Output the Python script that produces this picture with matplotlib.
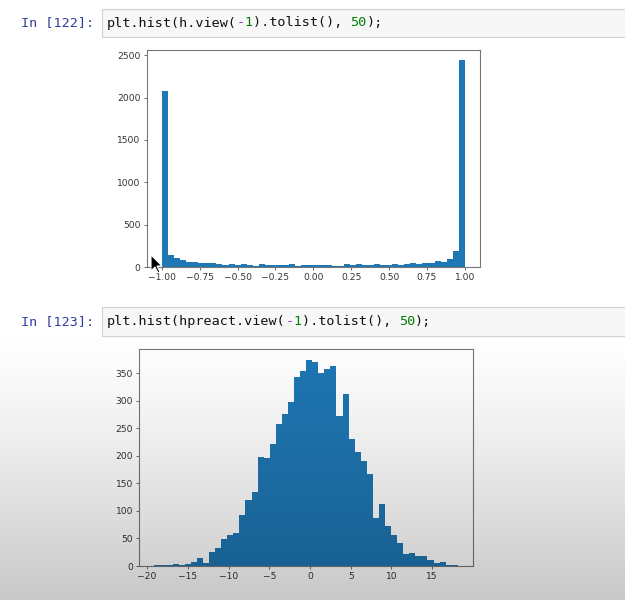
import numpy as np
import matplotlib
matplotlib.use("Agg")
import matplotlib.pyplot as plt
from matplotlib.patches import Rectangle, Polygon

# ---- data (50 bins each) ----
h_range = (-1.0, 1.0)
h_counts = [2075, 145, 110, 85, 62, 60, 50, 42, 48, 30,
            28, 35, 28, 35, 28, 15, 35, 28, 28, 28,
            28, 35, 15, 28, 28, 28, 28, 22, 12, 12,
            35, 28, 35, 28, 28, 35, 28, 28, 35, 28,
            38, 45, 35, 45, 45, 65, 55, 100, 185, 2440]
h_xticks = [-1.0, -0.75, -0.5, -0.25, 0.0, 0.25, 0.5, 0.75, 1.0]
h_yticks = [0, 500, 1000, 1500, 2000, 2500]

pre_range = (-19.1, 18.15)
pre_counts = [2, 2, 2, 4, 2, 4, 8, 15, 6, 26,
              33, 49, 56, 60, 93, 120, 135, 198, 196, 222,
              258, 276, 298, 343, 354, 375, 371, 350, 358, 363,
              272, 312, 231, 207, 190, 167, 88, 112, 73, 57,
              42, 22, 24, 18, 18, 10, 6, 8, 2, 2]
pre_xticks = [-20, -15, -10, -5, 0, 5, 10, 15]
pre_yticks = [0, 50, 100, 150, 200, 250, 300, 350]

W, H = 625, 600
fig = plt.figure(figsize=(W / 100, H / 100), dpi=100)
fig.patch.set_facecolor("white")


# pixel position -> figure fraction
def fx(x):
    return x / W


def fy(y):
    return 1 - y / H


mono = "DejaVu Sans Mono"
fs_code = 9.7
char_w = 0.602 * fs_code * 100 / 72  # px per monospace char


def code_cell(y_top, y_bot, n, pieces):
    fig.patches.append(Rectangle((fx(102), fy(y_bot)), fx(540), (y_bot - y_top) / H,
                                 transform=fig.transFigure, facecolor="#f7f7f7",
                                 edgecolor="#d2d2d2", linewidth=0.8, zorder=1))
    yc = fy((y_top + y_bot) / 2)
    fig.text(fx(21), yc, "In [%d]:" % n, family=mono, fontsize=fs_code,
             color="#303f9f", va="center", ha="left")
    x = 107
    for txt, col in pieces:
        fig.text(fx(x), yc, txt, family=mono, fontsize=fs_code, color=col,
                 va="center", ha="left")
        x += len(txt) * char_w


code_cell(9, 37, 122, [("plt.hist(h.view(", "#111111"), ("-", "#aa22ff"),
                       ("1", "#008000"), (").tolist(), ", "#111111"),
                       ("50", "#008000"), (");", "#111111")])
code_cell(307, 336, 123, [("plt.hist(hpreact.view(", "#111111"), ("-", "#aa22ff"),
                          ("1", "#008000"), (").tolist(), ", "#111111"),
                          ("50", "#008000"), (");", "#111111")])


def style(ax, xticks, yticks):
    ax.set_xticks(xticks)
    ax.set_yticks(yticks)
    ax.tick_params(labelsize=6.6, labelcolor="#333333", color="#555555",
                   length=2.5, width=0.6, pad=2)
    for s in ax.spines.values():
        s.set_color("#777777")
        s.set_linewidth(0.8)


# ---- top histogram ----
ax1 = fig.add_axes([fx(146.7), fy(267), (480 - 146.7) / W, (267 - 50) / H])
edges = np.linspace(h_range[0], h_range[1], len(h_counts) + 1)
ax1.hist((edges[:-1] + edges[1:]) / 2, bins=edges, weights=h_counts, color="#1f77b4")
style(ax1, h_xticks, h_yticks)

# ---- bottom histogram ----
ax2 = fig.add_axes([fx(139.3), fy(566), (473 - 139.3) / W, (566 - 349.3) / H])
ax2.set_facecolor("white")
edges = np.linspace(pre_range[0], pre_range[1], len(pre_counts) + 1)
ax2.hist((edges[:-1] + edges[1:]) / 2, bins=edges, weights=pre_counts, color="#1f77b4")
style(ax2, pre_xticks, pre_yticks)

# mouse pointer left in the screenshot
tip = (151, 255)
shape = [(0, 0), (0, 16), (4, 12), (7, 18), (9, 17), (6, 11), (11, 11)]
fig.patches.append(Polygon([(fx(tip[0] + a), fy(tip[1] + b)) for a, b in shape],
                           closed=True, transform=fig.transFigure, facecolor="black",
                           edgecolor="white", linewidth=0.8, zorder=20))

# darkening shade over the lower part of the screenshot
rows = np.linspace(0, H, 300)
alpha = np.clip((rows - 325) / (H - 325), 0, 1) ** 1.3 * 0.22
shade = np.zeros((len(rows), 1, 4))
shade[:, 0, 3] = alpha
ov = fig.add_axes([0, 0, 1, 1], zorder=15)
ov.imshow(shade, extent=[0, 1, 0, 1], aspect="auto", origin="upper",
          interpolation="bilinear")
ov.set_xlim(0, 1)
ov.set_ylim(0, 1)
ov.axis("off")
ov.patch.set_alpha(0)

fig.savefig("out.png", dpi=100)
